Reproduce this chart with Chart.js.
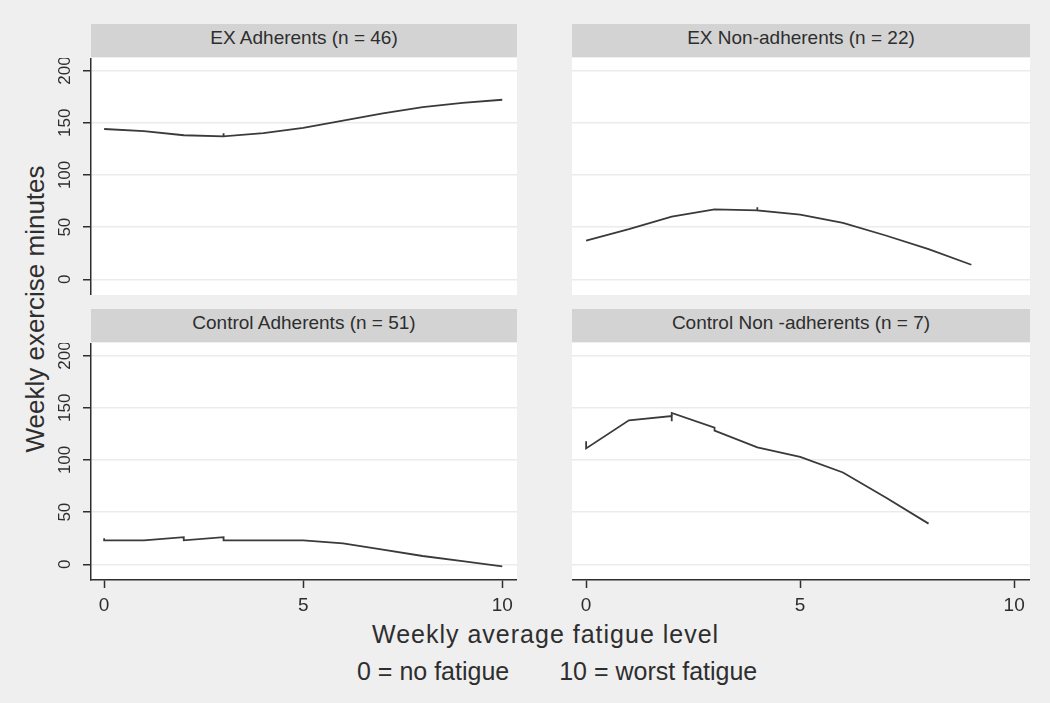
<!DOCTYPE html>
<html>
<head>
<meta charset="utf-8">
<script src="https://cdn.jsdelivr.net/npm/chart.js@4"></script>
<style>
  body { margin: 0; width: 1050px; height: 703px; overflow: hidden; position: relative;
         background: #efefef; font-family: "Liberation Sans", Arial, sans-serif; color: #2e2e2e; }
  canvas { position: absolute; }
  .strip { position: absolute; background: #d3d3d3; text-align: center; font-size: 19px;
           height: 33px; line-height: 28px; white-space: pre; }
  .txt { position: absolute; white-space: nowrap; font-size: 25px; line-height: 25px; }
</style>
</head>
<body>
<div class="txt" id="ytitle" style="left:-115px; top:296px; width:300px; text-align:center; font-size:26px; line-height:26px; transform:rotate(-90deg);">Weekly exercise minutes</div>
<div class="txt" style="left:372px; top:622px; letter-spacing:1px;">Weekly average fatigue level</div>
<div class="txt" style="left:357px; top:659px;"><span>0 = no fatigue</span><span style="margin-left:50px">10 = worst fatigue</span></div>
<script>
const panelTitles = ["EX Adherents (n = 46)", "EX Non-adherents (n = 22)",
                     "Control Adherents (n = 51)", "Control Non -adherents (n = 7)"];
const xTicks = [0, 5, 10];
const yTicks = [0, 50, 100, 150, 200];

// EX adherents
const exAdhFatigue = [0, 1, 2, 3, 3, 3, 4, 5, 6, 7, 8, 9, 10];
const exAdhMinutes = [144, 142, 138, 137, 140, 137, 140, 145, 152, 159, 165, 169, 172];
// EX non-adherents
const exNonFatigue = [0, 1, 2, 3, 4, 4, 4, 5, 6, 7, 8, 9];
const exNonMinutes = [37, 48, 60, 67, 66, 69, 66, 62, 54, 42, 29, 14];
// Control adherents
const ctlAdhFatigue = [0, 0, 1, 2, 2, 3, 3, 4, 5, 6, 7, 8, 9, 10];
const ctlAdhMinutes = [25, 23, 23, 26, 23, 26, 23, 23, 23, 20, 14, 8, 3, -2];
// Control non-adherents
const ctlNonFatigue = [0, 0, 1, 2, 2, 2, 3, 3, 4, 5, 6, 7, 8];
const ctlNonMinutes = [118, 111, 138, 142, 137, 145, 131, 128, 112, 103, 88, 64, 39];

const fontFam = '"Liberation Sans", Arial, sans-serif';
const inkColor = '#2e2e2e';

let whiteArea = {
    id: 'whiteArea',
    beforeDraw(chart) {
        let a = chart.chartArea;
        chart.ctx.save();
        chart.ctx.fillStyle = '#ffffff';
        chart.ctx.fillRect(a.left, a.top, a.right - a.left, a.bottom - a.top);
        chart.ctx.restore();
    }
};

let panels = [
    {title: panelTitles[0], fx: exAdhFatigue, my: exAdhMinutes, x: 91, y: 58, w: 426, h: 237, yAxis: true, xAxis: false},
    {title: panelTitles[1], fx: exNonFatigue, my: exNonMinutes, x: 572, y: 58, w: 458, h: 237, yAxis: false, xAxis: false},
    {title: panelTitles[2], fx: ctlAdhFatigue, my: ctlAdhMinutes, x: 91, y: 343, w: 426, h: 237, yAxis: true, xAxis: true},
    {title: panelTitles[3], fx: ctlNonFatigue, my: ctlNonMinutes, x: 572, y: 343, w: 458, h: 237, yAxis: false, xAxis: true}
];

function makePanel(p) {
    let yW = p.yAxis ? 50 : 0;
    let xH = p.xAxis ? 45 : 0;

    let strip = document.createElement('div');
    strip.className = 'strip';
    strip.style.left = p.x + 'px';
    strip.style.top = (p.y - 34) + 'px';
    strip.style.width = p.w + 'px';
    strip.textContent = p.title;
    document.body.appendChild(strip);

    let canvas = document.createElement('canvas');
    canvas.width = p.w + yW;
    canvas.height = p.h + xH;
    canvas.style.left = (p.x - yW) + 'px';
    canvas.style.top = p.y + 'px';
    document.body.appendChild(canvas);

    new Chart(canvas, {
        type: 'line',
        data: {
            datasets: [{
                data: p.fx.map((v, i) => ({x: v, y: p.my[i]})),
                borderColor: '#3a3a3a',
                borderWidth: 1.8,
                pointRadius: 0,
                tension: 0,
                fill: false
            }]
        },
        options: {
            responsive: false,
            animation: false,
            events: [],
            layout: {padding: 0},
            plugins: {legend: {display: false}, tooltip: {enabled: false}},
            scales: {
                x: {
                    type: 'linear',
                    min: -0.33,
                    max: 10.37,
                    display: p.xAxis,
                    afterBuildTicks: s => { s.ticks = xTicks.map(v => ({value: v})); },
                    afterFit: s => { s.height = xH; s.paddingLeft = 0; s.paddingRight = 0; },
                    grid: {drawOnChartArea: false, tickLength: 8, tickColor: inkColor, tickWidth: 1.5},
                    border: {color: inkColor, width: 1.5},
                    ticks: {font: {size: 19, family: fontFam}, color: inkColor, padding: 6, maxRotation: 0, autoSkip: false}
                },
                y: {
                    type: 'linear',
                    min: -15,
                    max: 212,
                    afterBuildTicks: s => { s.ticks = yTicks.map(v => ({value: v})); },
                    afterFit: s => { s.width = yW; s.paddingTop = 0; s.paddingBottom = 0; },
                    grid: {color: '#ebebeb', lineWidth: 1.5, drawTicks: p.yAxis, tickLength: 8, tickColor: inkColor, tickWidth: 1.5},
                    border: {display: p.yAxis, color: inkColor, width: 1.5},
                    ticks: {display: p.yAxis, font: {size: 17, family: fontFam}, color: inkColor,
                            minRotation: 90, maxRotation: 90, crossAlign: 'center', padding: 4, autoSkip: false}
                }
            }
        },
        plugins: [whiteArea]
    });
}

panels.forEach(makePanel);
</script>
</body>
</html>
